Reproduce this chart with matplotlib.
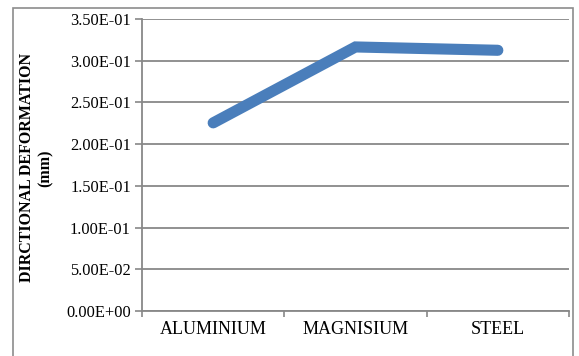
import matplotlib
matplotlib.use("Agg")
import matplotlib.pyplot as plt
from matplotlib.patches import Rectangle
from matplotlib.ticker import FixedLocator

categories = ["ALUMINIUM", "MAGNISIUM", "STEEL"]
deformation = [0.2255, 0.3165, 0.3125]
y_ticks = [0.0, 0.05, 0.10, 0.15, 0.20, 0.25, 0.30, 0.35]
y_tick_labels = ["0.00E+00", "5.00E-02", "1.00E-01", "1.50E-01",
                 "2.00E-01", "2.50E-01", "3.00E-01", "3.50E-01"]

plt.rcParams["font.family"] = ["Liberation Serif", "DejaVu Serif"]

fig = plt.figure(figsize=(5.79, 3.56), dpi=100)
W, H = 579, 356
ax = fig.add_axes([142 / W, 1 - 311 / H, (569 - 142) / W, (311 - 19) / H])

grid_color = "#888888"
x = list(range(len(categories)))
ax.plot(x, deformation, color="#4A7EBB", lw=8, solid_capstyle="round",
        solid_joinstyle="miter", zorder=3)

ax.set_xlim(-0.5, len(categories) - 0.5)
ax.set_ylim(y_ticks[0], y_ticks[-1])
ax.yaxis.set_major_locator(FixedLocator(y_ticks))
ax.set_yticklabels(y_tick_labels)
ax.set_xticks(x)
ax.set_xticklabels(categories)
ax.xaxis.set_minor_locator(FixedLocator([i - 0.5 for i in range(len(categories) + 1)]))
ax.tick_params(axis="x", which="major", length=0, pad=7, labelsize=13)
ax.tick_params(axis="x", which="minor", length=4, color=grid_color, width=1.2)
ax.tick_params(axis="y", length=5, color=grid_color, width=1.2, pad=3, labelsize=11.8)

ax.grid(axis="y", color=grid_color, lw=1.3)
ax.set_axisbelow(True)
for side in ["top", "right"]:
    ax.spines[side].set_visible(False)
for side in ["left", "bottom"]:
    ax.spines[side].set_color(grid_color)
    ax.spines[side].set_linewidth(1.3)

fig.text(36 / W, 1 - 168 / H, "DIRCTIONAL DEFORMATION\n(mm)", rotation=90,
         ha="center", va="center", fontsize=11.5, fontweight="bold",
         linespacing=1.2)

fig.patches.append(Rectangle((13 / W, -0.05), (573 - 13) / W, 1 - 8 / H + 0.05,
                             transform=fig.transFigure, fill=False,
                             edgecolor="#8c8c8c", lw=1.2))

fig.savefig("out.png", dpi=100)
